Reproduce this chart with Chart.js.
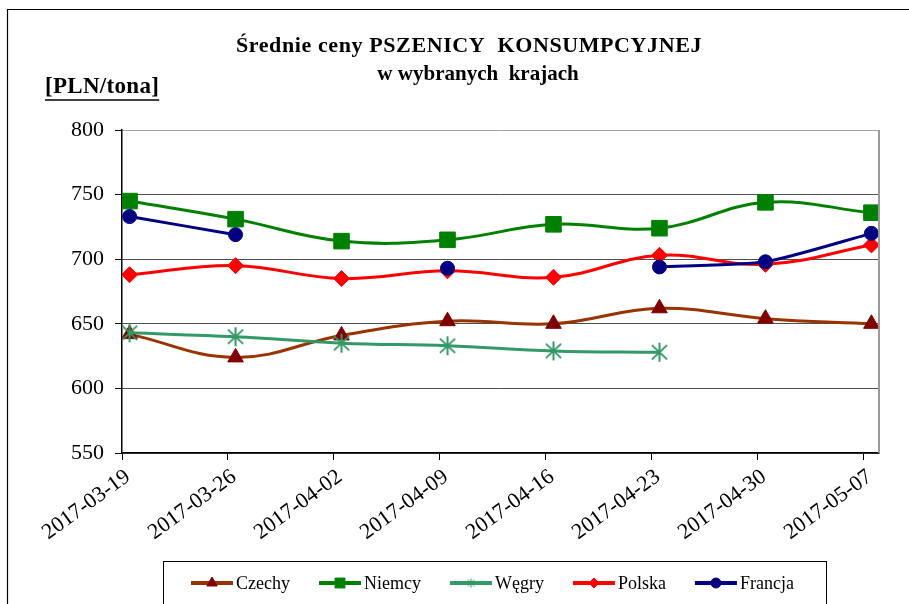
<!DOCTYPE html>
<html lang="pl">
<head>
<meta charset="UTF-8">
<title>Średnie ceny pszenicy konsumpcyjnej</title>
<script src="https://cdn.jsdelivr.net/npm/chart.js"></script>
<style>
  html, body { margin: 0; padding: 0; background: #fff; }
  #wrap { width: 909px; height: 604px; }
</style>
</head>
<body>
<div id="wrap"><canvas id="chart" width="909" height="604"></canvas></div>
<script>
  const dates = ['2017-03-19', '2017-03-26', '2017-04-02', '2017-04-09',
                 '2017-04-16', '2017-04-23', '2017-04-30', '2017-05-07'];
  const czechy  = [642, 624, 641, 652, 650, 662, 654, 650];
  const niemcy  = [745, 731, 714, 715, 727, 724, 744, 736];
  const wegry   = [643, 640, 635, 633, 629, 628, null, null];
  const polska  = [688, 695, 685, 691, 686, 703, 696, 711];
  const francja = [733, 719, null, 693, null, 694, 698, 720];
  const yTicks  = [550, 600, 650, 700, 750, 800];

  const SERIF = '"Liberation Serif", "Times New Roman", serif';
  const DAY = 86400000;
  const dayOf = d => (Date.parse(d) - Date.parse(dates[0])) / DAY;
  // excel date axis puts each point in the middle of its day
  const points = arr => arr.map((v, i) => ({ x: dayOf(dates[i]) + 0.5, y: v }));

  function starMarker(size, color, lw) {
    const c = document.createElement('canvas');
    c.width = c.height = size;
    const g = c.getContext('2d');
    const m = size / 2, r = size / 2 - 1;
    g.strokeStyle = color;
    g.lineWidth = lw;
    g.beginPath();
    g.moveTo(m, m - r); g.lineTo(m, m + r);
    g.moveTo(m - r * 0.8, m - r * 0.75); g.lineTo(m + r * 0.8, m + r * 0.75);
    g.moveTo(m - r * 0.8, m + r * 0.75); g.lineTo(m + r * 0.8, m - r * 0.75);
    g.stroke();
    return c;
  }

  const series = [
    { label: 'Czechy',  data: czechy,  line: '#993300', mark: '#800000', style: 'triangle', r: 9,  lr: 6, tension: 0.4, order: 5 },
    { label: 'Niemcy',  data: niemcy,  line: '#008000', mark: '#008000', style: 'rect',     r: 11, lr: 7, tension: 0.4, order: 4 },
    { label: 'Węgry',   data: wegry,   line: '#339966', mark: '#339966', style: starMarker(21, '#339966', 2), legendStyle: starMarker(11, '#339966', 1), r: 10, lr: 5, tension: 0.4, order: 3 },
    { label: 'Polska',  data: polska,  line: '#ff0000', mark: '#ff0000', style: 'rectRot',  r: 8,  lr: 5, tension: 0.4, order: 2 },
    { label: 'Francja', data: francja, line: '#000080', mark: '#000080', style: 'circle',   r: 7,  lr: 5, tension: 0.2, order: 1 }
  ];

  const datasets = series.map(s => ({
    label: s.label,
    data: points(s.data),
    borderColor: s.line,
    borderWidth: 3,
    tension: s.tension,
    spanGaps: false,
    pointStyle: s.style,
    pointRadius: s.r,
    pointBackgroundColor: s.mark,
    pointBorderColor: s.mark,
    pointBorderWidth: 1,
    order: s.order
  }));

  // frame, titles, plot border and legend
  const decor = {
    id: 'decor',
    afterDraw(chart) {
      const ctx = chart.ctx, a = chart.chartArea;
      ctx.save();

      ctx.strokeStyle = '#000';
      ctx.lineWidth = 1.2;
      ctx.beginPath();
      ctx.moveTo(7.5, 604); ctx.lineTo(7.5, 9.5); ctx.lineTo(909, 9.5);
      ctx.stroke();

      ctx.strokeStyle = '#9a9a9a';
      ctx.lineWidth = 2;
      ctx.beginPath();
      ctx.moveTo(a.right, a.top); ctx.lineTo(a.right, a.bottom);
      ctx.stroke();

      ctx.fillStyle = '#000';
      ctx.textAlign = 'center';
      ctx.textBaseline = 'middle';
      ctx.font = 'bold 22px ' + SERIF;
      ctx.letterSpacing = '0.6px';
      ctx.fillText('Średnie ceny PSZENICY  KONSUMPCYJNEJ', 469, 46);
      ctx.font = 'bold 21px ' + SERIF;
      ctx.letterSpacing = '0px';
      ctx.fillText('w wybranych  krajach', 478, 75);

      ctx.textAlign = 'left';
      ctx.font = 'bold 23px ' + SERIF;
      ctx.letterSpacing = '0.3px';
      ctx.fillText('[PLN/tona]', 45, 87);
      const uw = ctx.measureText('[PLN/tona]').width;
      ctx.letterSpacing = '0px';
      ctx.lineWidth = 1.5;
      ctx.strokeStyle = '#000';
      ctx.beginPath();
      ctx.moveTo(45, 100); ctx.lineTo(45 + uw, 100);
      ctx.stroke();

      // legend
      ctx.lineWidth = 1;
      ctx.strokeRect(163.5, 561.5, 663, 60);
      ctx.font = '18px ' + SERIF;
      ctx.textBaseline = 'middle';
      let x = 191;
      const y = 583;
      series.forEach(s => {
        ctx.strokeStyle = s.line;
        ctx.lineWidth = 4;
        ctx.beginPath();
        ctx.moveTo(x, y); ctx.lineTo(x + 42, y);
        ctx.stroke();
        ctx.fillStyle = s.mark;
        ctx.strokeStyle = s.mark;
        ctx.lineWidth = 1;
        Chart.helpers.drawPoint(ctx, { pointStyle: s.legendStyle || s.style, radius: s.lr, rotation: 0, borderWidth: 1 }, x + 21, y);
        ctx.fillStyle = '#000';
        ctx.fillText(s.label, x + 45, y + 1);
        x += 45 + ctx.measureText(s.label).width + 29;
      });
      ctx.restore();
    }
  };

  new Chart(document.getElementById('chart'), {
    type: 'line',
    data: { datasets },
    plugins: [decor],
    options: {
      responsive: false,
      animation: false,
      events: [],
      layout: { padding: { top: 130, right: 30, left: 0, bottom: 0 } },
      plugins: { legend: { display: false }, title: { display: false }, tooltip: { enabled: false } },
      scales: {
        x: {
          type: 'linear',
          min: 0,
          max: 50,
          afterBuildTicks: s => { s.ticks = dates.map(d => ({ value: dayOf(d) })); },
          afterFit: s => { s.height = 151; },
          ticks: {
            autoSkip: false,
            minRotation: 36,
            maxRotation: 36,
            padding: 4,
            labelOffset: 6,
            color: '#000',
            font: { family: SERIF, size: 22 },
            callback: v => dates.find(d => dayOf(d) === v) || ''
          },
          grid: { drawOnChartArea: false, tickLength: 7, color: '#000' },
          border: { color: '#000', width: 1.5 }
        },
        y: {
          min: 550,
          max: 800,
          afterBuildTicks: s => { s.ticks = yTicks.map(v => ({ value: v })); },
          afterFit: s => { s.width = 122; },
          ticks: { padding: 11, color: '#000', font: { family: SERIF, size: 22 } },
          grid: {
            tickLength: 7,
            tickColor: '#000',
            color: c => (c.tick && c.tick.value === 800) ? '#a0a0a0' : '#505050'
          },
          border: { color: '#000', width: 1.5 }
        }
      }
    }
  });
</script>
</body>
</html>
